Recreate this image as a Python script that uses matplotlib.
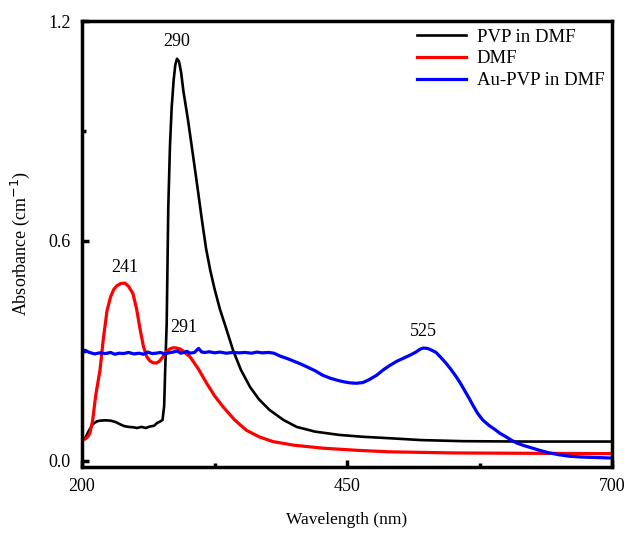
import matplotlib.pyplot as plt

plt.rcParams['font.family'] = ['Liberation Serif', 'DejaVu Serif']

# ==== DATA ====
pvp_x = [200, 203, 206, 210, 214, 217, 222, 227, 232, 236, 240, 244, 248, 252, 256, 260, 264, 268, 271,
         274, 276, 277.5, 278.5, 279.9, 281.4, 283, 284.6, 286.5, 288, 289.6, 291.5, 293.5, 295.6, 300,
         305, 309, 313, 317, 321, 325, 330, 336.5, 342.5, 350, 358.5, 367, 377, 390, 402.5, 420,
         443, 465, 490.6, 520, 560, 620, 700]
pvp_y = [0.057, 0.062, 0.080, 0.100, 0.108, 0.110, 0.111, 0.110, 0.106, 0.100, 0.095, 0.093, 0.092,
         0.090, 0.093, 0.090, 0.094, 0.096, 0.104, 0.108, 0.112, 0.150, 0.25, 0.375, 0.692, 0.86,
         0.964, 1.04, 1.08, 1.097, 1.09, 1.06, 1.01, 0.93, 0.828, 0.745, 0.66, 0.58, 0.52, 0.47, 0.415,
         0.357, 0.302, 0.248, 0.202, 0.168, 0.139, 0.112, 0.093, 0.080, 0.071, 0.066, 0.062, 0.057,
         0.054, 0.053, 0.053]

dmf_x = [200, 203, 205.5, 207.5, 210, 213, 217, 220, 223.6, 227, 230, 233, 236.5, 240.6, 244, 248,
         251.5, 255, 258, 261, 264, 267, 270, 273, 276, 279.5, 283, 286.5, 289.6, 293, 296, 302, 310,
         317.6, 325, 333, 344, 355, 367, 380, 400, 427, 460, 490, 550, 620, 700]
dmf_y = [0.057, 0.060, 0.066, 0.076, 0.11, 0.18, 0.248, 0.33, 0.41, 0.448, 0.468, 0.478, 0.484, 0.485,
         0.476, 0.457, 0.415, 0.356, 0.312, 0.285, 0.273, 0.268, 0.267, 0.272, 0.283, 0.298, 0.306,
         0.309, 0.308, 0.305, 0.298, 0.284, 0.25, 0.212, 0.178, 0.148, 0.112, 0.084, 0.066, 0.053,
         0.043, 0.035, 0.029, 0.025, 0.022, 0.021, 0.020]

au_x = [200, 203, 207, 212, 217, 222, 227, 231, 235, 239, 244, 249, 254, 258, 262, 266, 270, 274,
        278, 282, 286, 290, 293, 296, 299, 302, 306, 310, 313, 316, 320, 325, 330, 336, 342, 348, 354,
        360, 365, 370, 376, 381, 387, 394, 400, 406, 412, 420, 427, 434, 441, 447, 453, 459, 465,
        471, 478, 484, 490.6, 497, 503, 509, 515, 519, 522, 526, 530, 534, 538, 543, 548, 553, 557,
        561, 565, 569, 573, 578, 584, 590, 594, 600, 605, 610, 618, 625, 633, 641, 650, 660, 670,
        680, 690, 700]
au_y = [0.294, 0.302, 0.296, 0.292, 0.295, 0.293, 0.296, 0.291, 0.294, 0.293, 0.296, 0.292, 0.294,
        0.291, 0.297, 0.293, 0.294, 0.296, 0.292, 0.295, 0.297, 0.300, 0.294, 0.296, 0.299, 0.294,
        0.296, 0.307, 0.297, 0.296, 0.298, 0.295, 0.297, 0.294, 0.296, 0.295, 0.296, 0.294, 0.297,
        0.295, 0.296, 0.294, 0.286, 0.279, 0.272, 0.265, 0.257, 0.246, 0.234, 0.226, 0.220, 0.216,
        0.213, 0.212, 0.214, 0.222, 0.234, 0.248, 0.261, 0.272, 0.280, 0.288, 0.297, 0.305, 0.308,
        0.307, 0.302, 0.296, 0.284, 0.268, 0.250, 0.230, 0.212, 0.192, 0.172, 0.151, 0.131, 0.112,
        0.097, 0.085, 0.076, 0.066, 0.057, 0.049, 0.041, 0.035, 0.028, 0.022, 0.017, 0.013, 0.011,
        0.010, 0.009, 0.008]

series = [("PVP in DMF", pvp_x, pvp_y, "black", 1.9),
          ("DMF", dmf_x, dmf_y, "#ff0000", 2.3),
          ("Au-PVP in DMF", au_x, au_y, "#0000ff", 2.3)]

peak_labels = [("290", 289.6, 1.12), ("241", 240.6, 0.505), ("291", 296, 0.34), ("525", 522, 0.33)]

# ==== PLOT ====
fig = plt.figure(figsize=(6.29, 5.34), dpi=100)
ax = fig.add_axes([82 / 629, 1 - 467 / 534, 530 / 629, 446 / 534])

for label, xs, ys, color, lw in series:
    ax.plot(xs, ys, color=color, lw=lw, label=label, solid_joinstyle='round')

for txt, px, py in peak_labels:
    ax.text(px, py, txt, ha='center', va='bottom', fontsize=13)

ax.set_xlim(200, 700)
ax.set_ylim(-0.0164, 1.2)
ax.set_xticks([200, 450, 700])
ax.set_xticks([325, 575], minor=True)
ax.set_yticks([0.0, 0.6, 1.2])
ax.set_yticklabels(["0.0", "0.6", "1.2"])
ax.set_yticks([0.3, 0.9], minor=True)
ax.tick_params(which='major', direction='in', length=5, width=2.5, labelsize=13, pad=8)
ax.tick_params(which='minor', direction='in', length=3, width=2.5)
for s in ax.spines.values():
    s.set_linewidth(2.5)

ax.set_xlabel("Wavelength (nm)", fontsize=12.5, labelpad=12)
ax.set_ylabel("Absorbance (cm$^{-1}$)", fontsize=13, labelpad=12)

ax.legend(loc='upper right', frameon=False, fontsize=13.5, handlelength=2.6, handletextpad=0.6,
          labelspacing=0.25, borderaxespad=0.0)

plt.savefig("out.png", dpi=100)
